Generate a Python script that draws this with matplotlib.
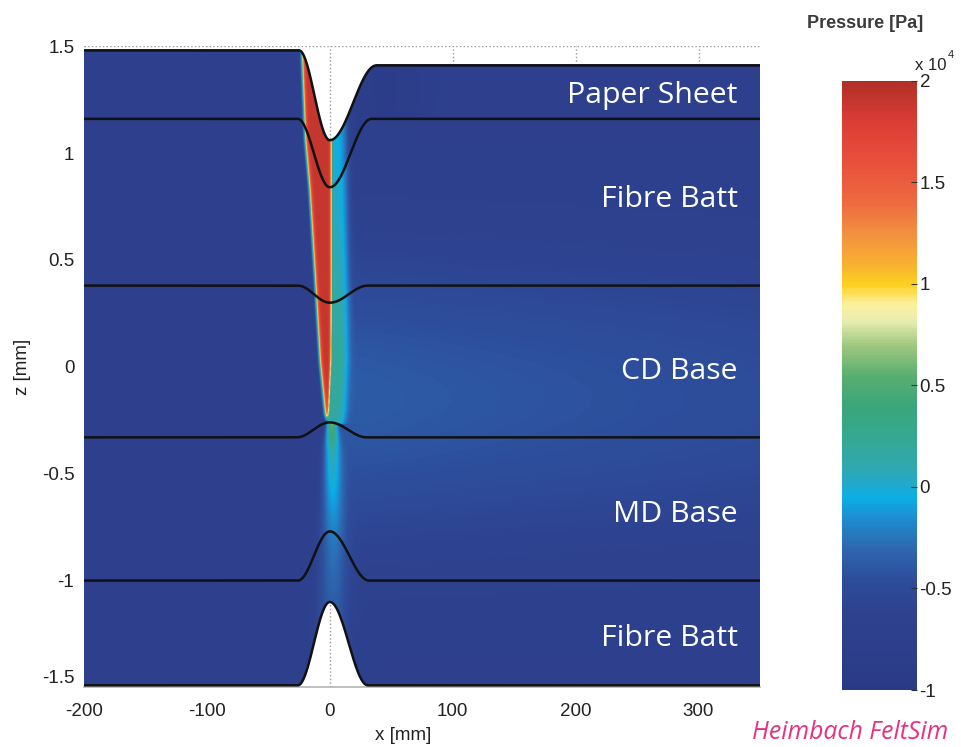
import numpy as np
import matplotlib.pyplot as plt
from matplotlib.colors import LinearSegmentedColormap

plt.rcParams["axes.unicode_minus"] = False

# layer boundaries, top to bottom (z in mm): level at far left, far right and at x=0
bnd_left = [1.48, 1.16, 0.38, -0.33, -1.00, -1.49]
bnd_right = [1.41, 1.16, 0.38, -0.33, -1.00, -1.49]
bnd_mid = [1.06, 0.84, 0.30, -0.26, -0.77, -1.10]
bnd_wl = [25, 26, 26, 27, 26, 26]   # dent width left of x=0 (mm)
bnd_wr = [38, 34, 31, 30, 32, 31]   # dent width right of x=0 (mm)

layer_names = ["Paper Sheet", "Fibre Batt", "CD Base", "MD Base", "Fibre Batt"]
label_z = [1.27, 0.785, -0.02, -0.69, -1.27]

# high pressure wedge in the nip (x edges in mm at given z)
wedge_z = [1.50, 1.06, 0.83, 0.36, 0.02, -0.21, -0.27]
wedge_left = [-23, -20, -16.5, -11.5, -8, -4, -2.5]
wedge_right = [0.8, 1.2, 1.2, 1.2, 0.8, -1.0, -2.5]

# lighter plume below the wedge tip
plume_z = [-1.50, -1.10, -0.80, -0.60, -0.40, -0.27]
plume_amp = [0.28, 0.34, 0.42, 0.55, 0.70, 1.15]
plume_sig = [15, 14, 11, 9, 7, 4]

p_base = -0.72   # pressure far from the nip, x 1e4 Pa
p_red = 1.9

# colour scale as in the figure (value x 1e4 Pa)
cb_vals = [-1.0, -0.6, -0.45, -0.3, -0.15, -0.05, 0.0, 0.1, 0.25, 0.4, 0.55,
           0.7, 0.82, 0.9, 1.0, 1.1, 1.25, 1.4, 1.6, 1.8, 2.0]
cb_cols = ["#2b3a87", "#2e4290", "#2d4e9c", "#2e68b0", "#1c8fd2", "#0aafe6",
           "#1eaad0", "#30a8b0", "#35a890", "#3aa67a", "#5aae70", "#a0c880",
           "#e8eeb0", "#fdf0a0", "#fdd020", "#f8b030", "#f39040", "#ee6a40",
           "#e8503c", "#dc3d36", "#b03028"]
cb_ticks = [-1, -0.5, 0, 0.5, 1, 1.5, 2]
cb_labels = ["-1", "-0.5", "0", "0.5", "1", "1.5", "2"]

x_ticks = [-200, -100, 0, 100, 200, 300]
x_labels = ["-200", "-100", "0", "100", "200", "300"]
y_ticks = [-1.5, -1, -0.5, 0, 0.5, 1, 1.5]
y_labels = ["-1.5", "-1", "-0.5", "0", "0.5", "1", "1.5"]


def boundary(x, i):
    tl = np.clip(-x / bnd_wl[i], 0, 1)
    tr = np.clip(x / bnd_wr[i], 0, 1)
    ul = (1 + np.cos(np.pi * tl)) / 2
    ur = (1 + np.cos(np.pi * tr)) / 2
    zl = bnd_left[i] + (bnd_mid[i] - bnd_left[i]) * ul
    zr = bnd_right[i] + (bnd_mid[i] - bnd_right[i]) * ur
    return np.where(x < 0, zl, zr)


cmap = LinearSegmentedColormap.from_list(
    "felt", [((v + 1) / 3, c) for v, c in zip(cb_vals, cb_cols)])

xs = np.linspace(-200, 350, 1600)
zs = np.linspace(-1.5, 1.5, 900)
X, Z = np.meshgrid(xs, zs)

P = np.full(X.shape, p_base)
# right of the nip the bases are a bit lighter
side = 1 / (1 + np.exp(-(X - 3) / 4))
P += side * 0.36 * np.exp(-((Z + 0.15) / 0.75) ** 2) * (1 - 0.3 * np.clip(X, 0, None) / 350)
# darker patch in the sheet just after the nip
sheet = Z > boundary(X, 1)
P -= sheet * side * 0.15 * np.exp(-((X - 45) / 30) ** 2)

# wedge
zt = wedge_z[-1]
xl = np.interp(Z, wedge_z[::-1], wedge_left[::-1])
xr = np.interp(Z, wedge_z[::-1], wedge_right[::-1])
above = Z > zt
d = np.clip(X - xr, 0, None)
band = np.where((X > xr) & above, 0.7 * np.exp(-(d / 14) ** 4), 0)
P += band
a = 1 / (1 + np.exp(np.clip(-(X - xl) / 0.8, -50, 50)))
b = 1 / (1 + np.exp(np.clip((X - xr) / 0.5, -50, 50)))
w = a * b * np.clip((Z - zt) / 0.04, 0, 1)
P = P * (1 - w) + p_red * w

# plume below the tip
below = Z <= zt
amp = np.interp(Z, plume_z, plume_amp)
sig = np.interp(Z, plume_z, plume_sig)
P += below * amp * np.exp(-((X - 1.5) / sig) ** 2)

mask = (Z > boundary(X, 0)) | (Z < boundary(X, 5))
P = np.ma.masked_array(P, mask=mask)

fig = plt.figure(figsize=(9.62, 7.47), dpi=100)
ax = fig.add_axes([0.0873, 0.0797, 0.7027, 0.8585])

im = ax.imshow(P, extent=[-200, 350, -1.5, 1.5], origin="lower", aspect="auto",
               cmap=cmap, vmin=-1, vmax=2, interpolation="antialiased", zorder=1)

xb = np.linspace(-200, 350, 1200)
for i in range(len(bnd_left)):
    ax.plot(xb, boundary(xb, i), color="#111111", lw=1.8, zorder=3)

for name, zl in zip(layer_names, label_z):
    ax.text(332, zl, name, color="white", fontsize=21.8, family="Open Sans",
            ha="right", va="center", zorder=4)

ax.set_xlim(-200, 350)
ax.set_ylim(-1.5, 1.5)
ax.set_xticks(x_ticks)
ax.set_xticklabels(x_labels)
ax.set_yticks(y_ticks)
ax.set_yticklabels(y_labels)
ax.grid(True, linestyle=":", color="#9a9a9a", lw=1)
ax.set_axisbelow(True)
for s in ["top", "right", "left"]:
    ax.spines[s].set_visible(False)
ax.spines["bottom"].set_color("#b5b5b5")
ax.spines["bottom"].set_linewidth(1.2)
ax.tick_params(axis="both", direction="in", length=0, labelsize=13.5,
               labelcolor="#222222")
ax.tick_params(axis="y", pad=7)
ax.tick_params(axis="x", pad=11)
for t in ax.get_xticklabels() + ax.get_yticklabels():
    t.set_family("Liberation Sans")
# the -1.5 label sits a little higher, as in the original
ax.get_yticklabels()[0].set_verticalalignment("bottom")

ax.set_xlabel("x [mm]", fontsize=13.5, family="Liberation Sans", color="#222222",
              labelpad=1)
ax.xaxis.set_label_coords(0.472, -0.062)
ax.set_ylabel("z [mm]", fontsize=13.5, family="Liberation Sans", color="#222222")
ax.yaxis.set_label_coords(-0.078, 0.5)

cax = fig.add_axes([0.875, 0.0763, 0.078, 0.8153])
cb = fig.colorbar(im, cax=cax, ticks=cb_ticks)
cb.set_ticklabels(cb_labels)
cb.outline.set_visible(False)
cax.tick_params(direction="in", length=4, width=0.8, color="#333333",
                labelsize=13.5, labelcolor="#222222", pad=2)
for t in cax.get_yticklabels():
    t.set_family("Liberation Sans")

fig.text(0.899, 0.968, "Pressure [Pa]", fontsize=13, fontweight="bold",
         family="Liberation Sans", color="#3a3a3a", ha="center", va="center")
fig.text(0.951, 0.912, "x 10", fontsize=12, family="Liberation Sans",
         color="#222222", ha="left", va="center")
fig.text(0.985, 0.926, "4", fontsize=8, family="Liberation Sans",
         color="#222222", ha="left", va="center")
fig.text(0.986, 0.02, "Heimbach FeltSim", fontsize=17.8, style="italic",
         family="Open Sans", color="#e6317f", ha="right", va="center")

fig.savefig("out.png", dpi=100)
